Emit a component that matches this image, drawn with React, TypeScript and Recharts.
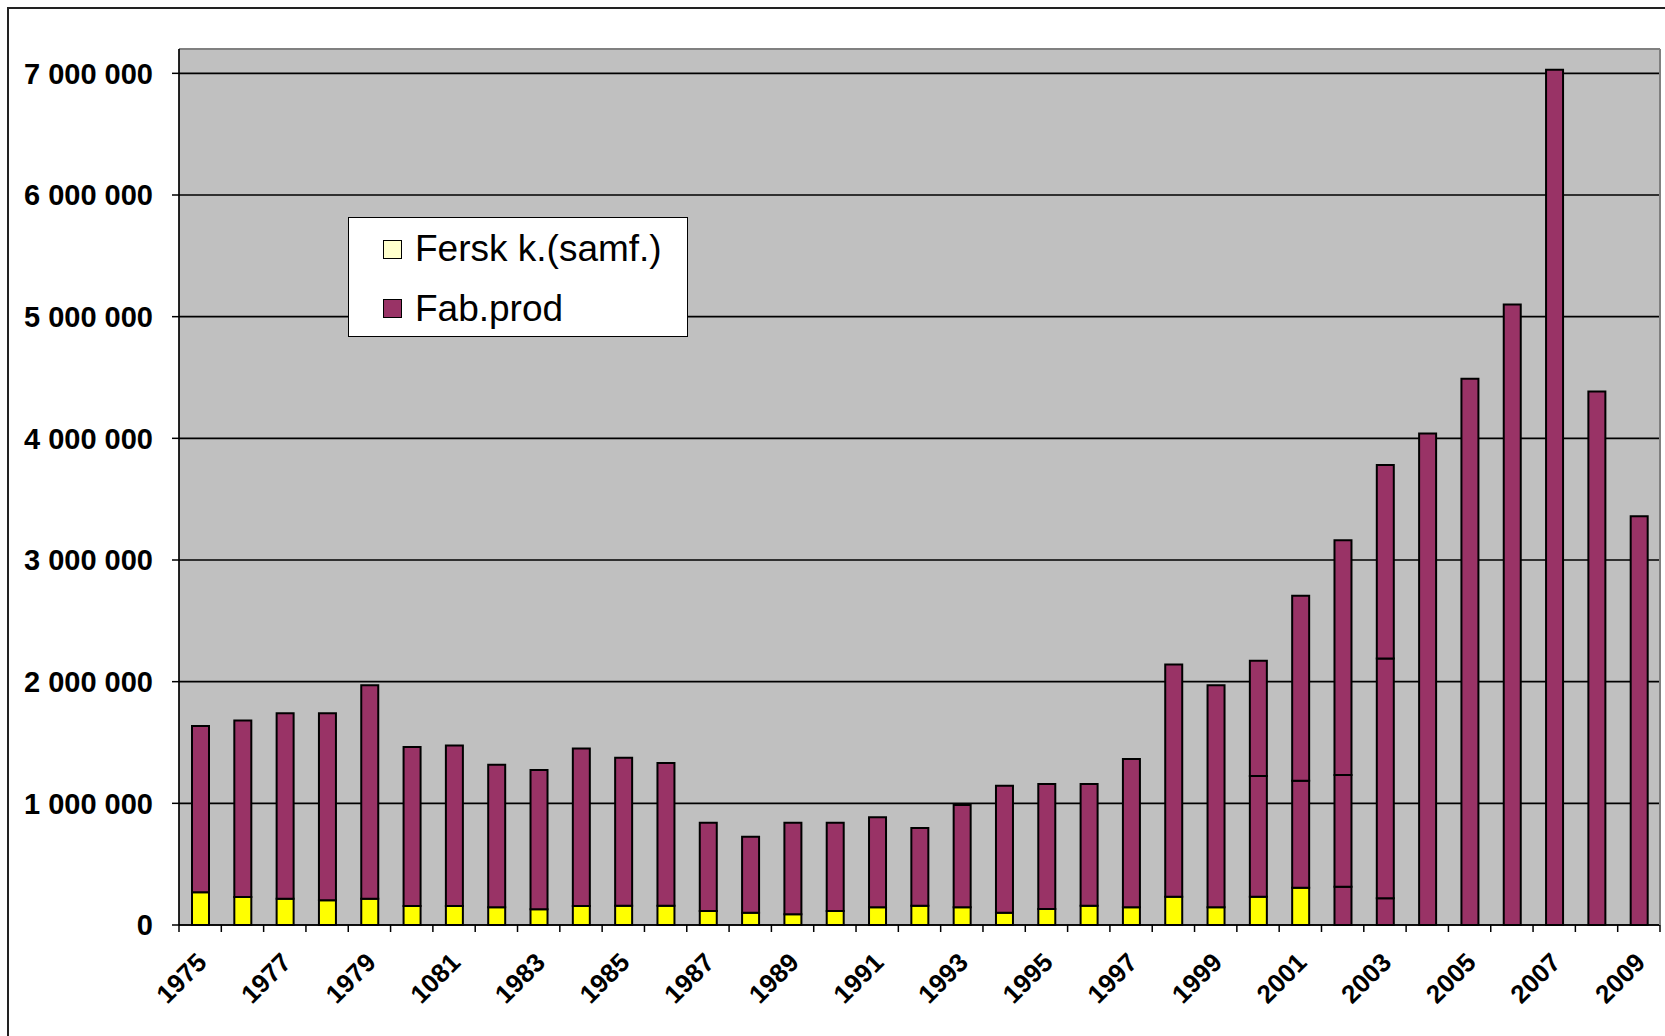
import React from "react";
import { BarChart, Bar, XAxis, YAxis, CartesianGrid, Legend, ReferenceLine, Cell } from "recharts";

// years on the category axis (the source has "1081" for 1981)
const years = [
  "1975", "1976", "1977", "1978", "1979", "1980", "1081", "1982", "1983", "1984",
  "1985", "1986", "1987", "1988", "1989", "1990", "1991", "1992", "1993", "1994",
  "1995", "1996", "1997", "1998", "1999", "2000", "2001", "2002", "2003", "2004",
  "2005", "2006", "2007", "2008", "2009",
];

// Fersk k.(samf.)
const fersk = [
  270000, 230000, 216000, 203000, 216000, 156000, 156000, 145000, 130000, 156000,
  159000, 159000, 115000, 101000, 88000, 115000, 145000, 159000, 145000, 101000,
  131000, 159000, 145000, 233000, 145000, 233000, 307000, 315000, 219000, 0,
  0, 0, 0, 0, 0,
];

// Fab.prod
const fabProd = [
  1366000, 1450000, 1524000, 1537000, 1754000, 1308000, 1319000, 1173000, 1145000, 1294000,
  1216000, 1172000, 726000, 625000, 753000, 726000, 740000, 638000, 841000, 1044000,
  1028000, 1000000, 1219000, 1909000, 1825000, 991000, 879000, 917000, 1971000, 4040000,
  4490000, 5100000, 7030000, 4385000, 3360000,
];

// extra purple segment stacked on top for 2000-2003
const fabProdExtra = [
  0, 0, 0, 0, 0, 0, 0, 0, 0, 0,
  0, 0, 0, 0, 0, 0, 0, 0, 0, 0,
  0, 0, 0, 0, 0, 948000, 1520000, 1931000, 1590000, 0,
  0, 0, 0, 0, 0,
];

const yTicks = [0, 1000000, 2000000, 3000000, 4000000, 5000000, 6000000, 7000000];

const data = years.map((year, i) => ({
  year,
  fersk: fersk[i],
  fab: fabProd[i],
  extra: fabProdExtra[i],
}));

const YELLOW = "#FFFF00";
const PALE = "#FFFFCC";
const PURPLE = "#993366";
const FONT = "'Liberation Sans', Arial, sans-serif";

const W = 1665;
const H = 1036;
const PLOT_LEFT = 179;
const PLOT_RIGHT = 1660;
const HALF_BAND = (PLOT_RIGHT - PLOT_LEFT) / years.length / 2;

const fmt = (v: number) => String(v).replace(/\B(?=(\d{3})+(?!\d))/g, " ");

function YTick(props: any) {
  const { x, y, payload } = props;
  return (
    <text x={x} y={y} dy="0.36em" textAnchor="end" fontFamily={FONT} fontWeight="bold" fontSize={29} fill="#000">
      {fmt(payload.value)}
    </text>
  );
}

function XTick(props: any) {
  const { x, y, payload, index } = props;
  const last = index === years.length - 1;
  const lx = x + 8;
  const ly = y + 39;
  return (
    <g>
      <line x1={x - HALF_BAND} y1={y} x2={x - HALF_BAND} y2={y + 7} stroke="#000" strokeWidth={1.5} />
      {last && <line x1={x + HALF_BAND} y1={y} x2={x + HALF_BAND} y2={y + 7} stroke="#000" strokeWidth={1.5} />}
      {index % 2 === 0 && (
        <text x={lx} y={ly} transform={`rotate(-45, ${lx}, ${ly})`} textAnchor="end" fontFamily={FONT} fontWeight="bold" fontSize={26} fill="#000">
          {payload.value}
        </text>
      )}
    </g>
  );
}

function LegendBox() {
  const items = [
    { label: "Fersk k.(samf.)", color: PALE },
    { label: "Fab.prod", color: PURPLE },
  ];
  return (
    <div style={{ position: "relative", width: 340, height: 120, boxSizing: "border-box", border: "1.5px solid #000", background: "#fff", fontFamily: FONT }}>
      {items.map((it, i) => (
        <div key={it.label} style={{ position: "absolute", left: 34, top: 11 + i * 59.5, height: 40, display: "flex", alignItems: "center" }}>
          <span style={{ width: 19, height: 19, boxSizing: "border-box", border: "1.5px solid #000", background: it.color, marginRight: 13 }} />
          <span style={{ fontSize: 37, lineHeight: "40px", color: "#000", whiteSpace: "nowrap" }}>{it.label}</span>
        </div>
      ))}
    </div>
  );
}

export default function App() {
  return (
    <div style={{ position: "absolute", left: 0, top: 0, width: W, height: H, background: "#fff", overflow: "hidden" }}>
      <div style={{ position: "absolute", left: 7, top: 7, width: W, height: H, borderTop: "2px solid #222", borderLeft: "2px solid #222" }} />
      <div style={{ position: "absolute", left: 0, top: 0 }}>
        <BarChart width={W} height={H} data={data} margin={{ top: 49, right: 4, bottom: 11, left: 9 }} barSize={17}>
          <CartesianGrid yAxisId="left" vertical={false} fill="#C0C0C0" stroke="#000" strokeWidth={1.7} fillOpacity={1} />
          <XAxis
            dataKey="year"
            interval={0}
            height={100}
            tickLine={false}
            tickSize={0}
            tickMargin={0}
            axisLine={{ stroke: "#000", strokeWidth: 1.7 }}
            tick={<XTick />}
          />
          <YAxis
            yAxisId="left"
            width={170}
            domain={[0, 7200000]}
            ticks={yTicks}
            interval={0}
            tickSize={7}
            tickMargin={19}
            axisLine={{ stroke: "#000", strokeWidth: 1.7 }}
            tickLine={{ stroke: "#000", strokeWidth: 1.5 }}
            tick={<YTick />}
          />
          <YAxis yAxisId="right" orientation="right" width={1} tick={false} tickLine={false} axisLine={{ stroke: "#808080", strokeWidth: 2 }} />
          <ReferenceLine yAxisId="left" y={7200000} stroke="#808080" strokeWidth={2} />
          <Legend
            layout="vertical"
            align="center"
            verticalAlign="middle"
            wrapperStyle={{ left: 348, top: 217, width: 340, height: 120 }}
            content={<LegendBox />}
          />
          <Bar yAxisId="left" dataKey="fersk" name="Fersk k.(samf.)" stackId="a" fill={YELLOW} stroke="#000" strokeWidth={2} isAnimationActive={false}>
            {data.map((d) => (
              <Cell key={d.year} fill={Number(d.year) >= 2002 ? PURPLE : YELLOW} />
            ))}
          </Bar>
          <Bar yAxisId="left" dataKey="fab" name="Fab.prod" stackId="a" fill={PURPLE} stroke="#000" strokeWidth={2} isAnimationActive={false} />
          <Bar yAxisId="left" dataKey="extra" name="Fab.prod" legendType="none" stackId="a" fill={PURPLE} stroke="#000" strokeWidth={2} isAnimationActive={false} />
        </BarChart>
      </div>
    </div>
  );
}
